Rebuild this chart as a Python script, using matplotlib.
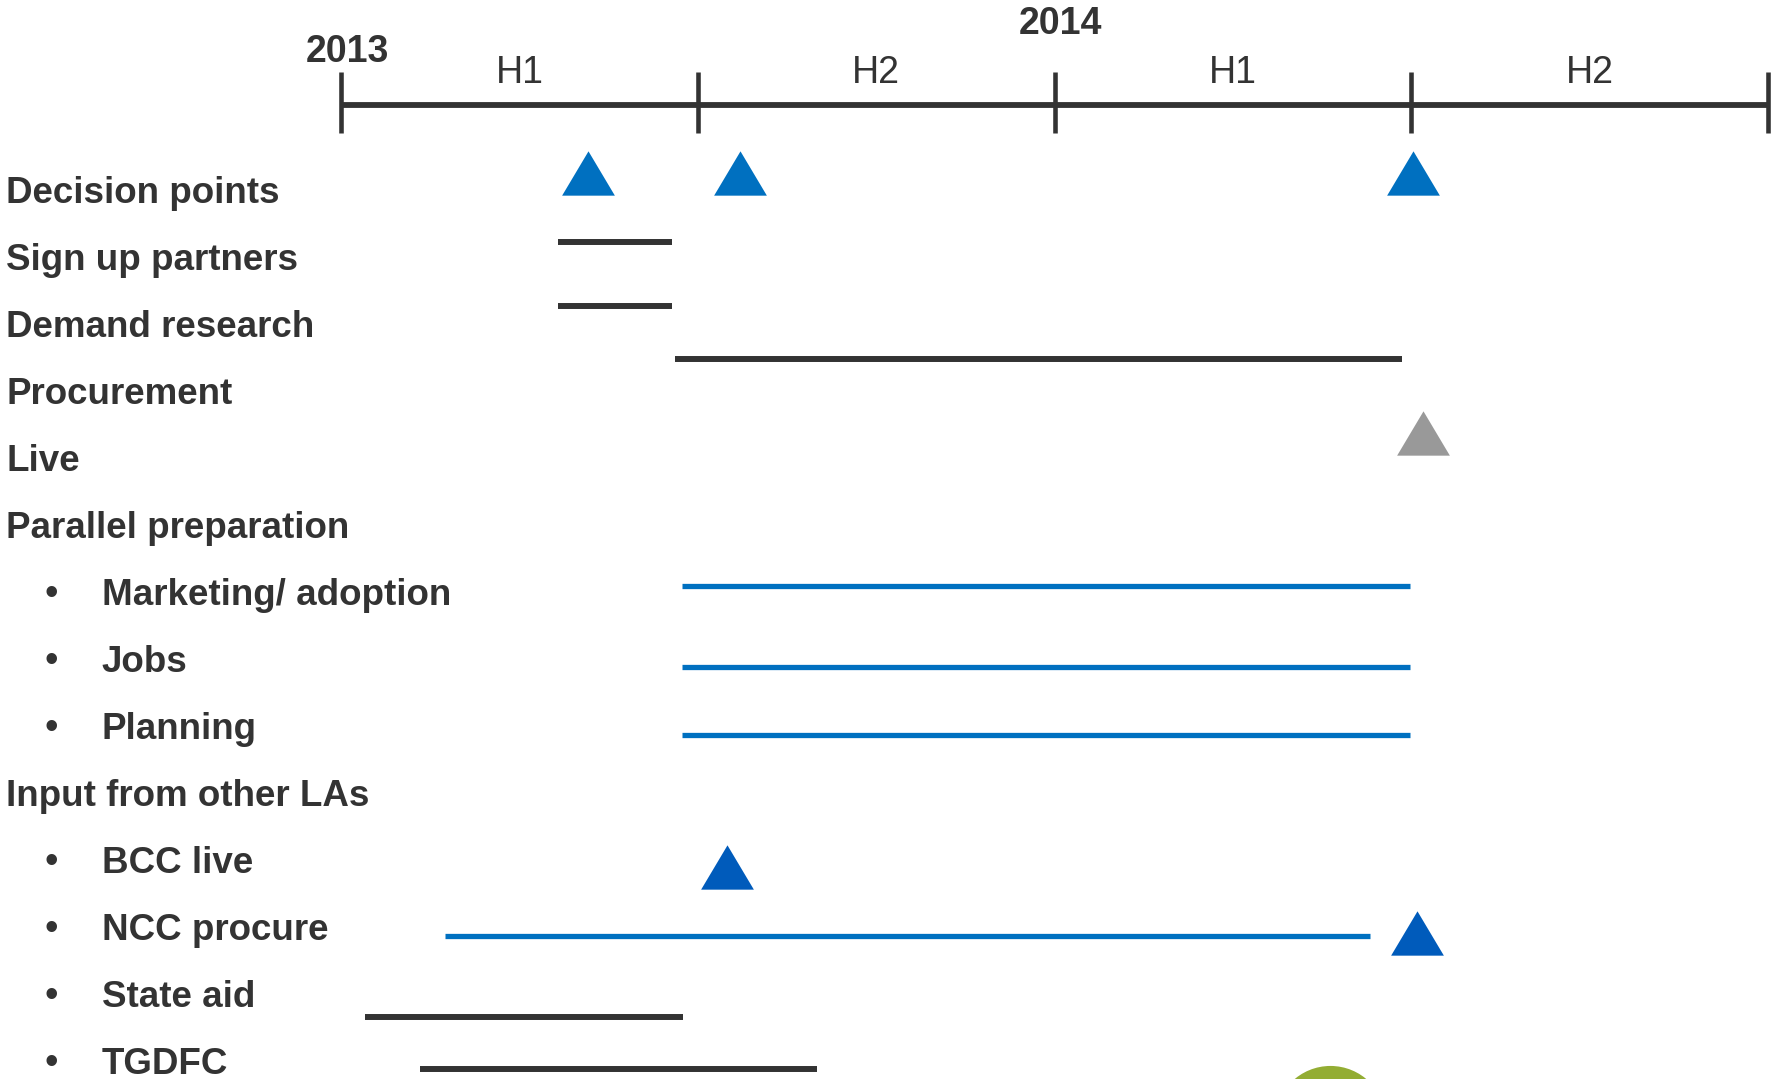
import matplotlib
matplotlib.use("Agg")
import matplotlib.pyplot as plt

# row labels, top to bottom; indented ones get a bullet
labels = ["Decision points", "Sign up partners", "Demand research", "Procurement", "Live",
          "Parallel preparation", "Marketing/ adoption", "Jobs", "Planning",
          "Input from other LAs", "BCC live", "NCC procure", "State aid", "TGDFC"]
indented = [False, False, False, False, False, False, True, True, True, False, True, True, True, True]

# timeline: months from Jan 2013
half_ticks = [0, 6, 12, 18, 24]
half_names = ["H1", "H2", "H1", "H2"]
half_mid = [3, 9, 15, 21]
years = ["2013", "2014"]
year_x = [0.1, 12.1]
year_y = [-2.08, -2.49]

# bars: (start month, end month, vertical position)
bar_start = [3.65, 3.65, 5.61, 5.74, 5.74, 5.74, 1.75, 0.40, 1.33]
bar_end = [5.57, 5.57, 17.84, 17.98, 17.98, 17.98, 17.31, 5.76, 8.00]
bar_y = [0.76, 1.72, 2.51, 5.90, 7.10, 8.11, 11.11, 12.32, 13.10]
bar_color = ["#333333", "#333333", "#333333", "#0070C0", "#0070C0", "#0070C0",
             "#0070C0", "#333333", "#333333"]

# milestones (triangles)
ms_x = [4.16, 6.71, 18.03, 18.19, 6.50, 18.09]
ms_y = [-0.27, -0.27, -0.27, 3.61, 10.08, 11.07]
ms_color = ["#0070C0", "#0070C0", "#0070C0", "#999999", "#005BBB", "#005BBB"]

# green status dot at the bottom
dot_x = [16.63]
dot_y = [13.88]

ink = "#333333"
tri = [(-0.5, -0.42), (0.5, -0.42), (0.0, 0.42)]

fig = plt.figure(figsize=(17.71, 10.79), dpi=100)
ax = fig.add_axes([0, 0, 1, 1])
ax.set_xlim(-5.735, 24.05)
ax.set_ylim(13.25, -2.85)
ax.axis("off")

# axis line with half-year ticks
ax.plot([half_ticks[0], half_ticks[-1]], [-1.28, -1.28], color=ink, lw=4.2, solid_capstyle="butt")
for t in half_ticks:
    ax.plot([t, t], [-1.78, -0.87], color=ink, lw=3.3, solid_capstyle="butt")
for name, m in zip(half_names, half_mid):
    ax.text(m, -1.76, name, ha="center", va="center", fontsize=27, color=ink,
            family="Liberation Sans")
for yr, x, y in zip(years, year_x, year_y):
    ax.text(x, y, yr, ha="center", va="center", fontsize=27, color=ink, fontweight="bold",
            family="Liberation Sans")

# row labels
for i, (lab, ind) in enumerate(zip(labels, indented)):
    y = i + 0.03
    if ind:
        ax.text(-4.88, y, "\u2022", ha="center", va="center", fontsize=28, color=ink,
                family="Liberation Sans")
        ax.text(-4.02, y, lab, ha="left", va="center", fontsize=26.5, color=ink,
                fontweight="bold", family="Liberation Sans")
    else:
        ax.text(-5.63, y, lab, ha="left", va="center", fontsize=26.5, color=ink,
                fontweight="bold", family="Liberation Sans")

# activity bars
for s, e, y, c in zip(bar_start, bar_end, bar_y, bar_color):
    ax.plot([s, e], [y, y], color=c, lw=4.3 if c == ink else 3.8, solid_capstyle="butt")

# milestones
for x, y, c in zip(ms_x, ms_y, ms_color):
    ax.plot(x, y, marker=tri, markersize=38, color=c, markeredgewidth=0, linestyle="none")

ax.plot(dot_x, dot_y, marker="o", markersize=80, color="#93AD33", markeredgewidth=0,
        linestyle="none")

fig.savefig("out.png", dpi=100)
